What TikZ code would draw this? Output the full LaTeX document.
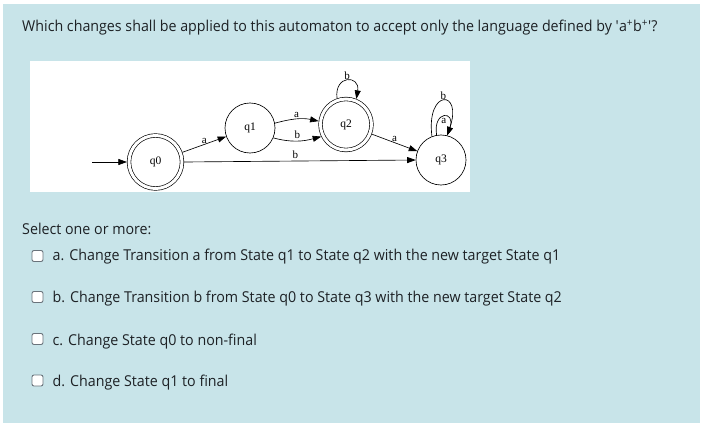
\documentclass[tikz,border=0pt]{standalone}
\usepackage{fontspec}
\setmainfont{Open Sans}[FakeStretch=0.95]
\newfontfamily\gvfont{Liberation Serif}
\usetikzlibrary{arrows.meta}
\definecolor{panel}{HTML}{C8E4E9}
\definecolor{qtext}{HTML}{1D2125}
\definecolor{boxedge}{HTML}{6A737B}
\begin{document}
\begin{tikzpicture}[x=1pt,y=1pt,
  txt/.style={anchor=base west, inner sep=0pt, text=qtext, font=\fontsize{15}{18}\selectfont},
  chk/.style={draw=boxedge, fill=white, rounded corners=2pt, minimum size=11pt, line width=0.9pt, inner sep=0pt},
  state/.style={circle, draw, line width=0.65pt, minimum size=50pt, inner sep=0pt, font=\gvfont\fontsize{11.5}{11.5}\selectfont},
  accept/.style={state, double, double distance=3pt, outer sep=2.1pt},
  edge/.style={line width=0.65pt, -{Triangle[length=8.5pt,width=6pt]}},
  lbl/.style={inner sep=1pt, font=\gvfont\fontsize{11}{11}\selectfont}]
\useasboundingbox (0,0) rectangle (702,-428);
\fill[white] (0,0) rectangle (702,-428);
\fill[panel] (3,-4) rectangle (700,-423);
\fill[white] (30,-61) rectangle (470,-192);
% question
\node[txt] (question) at (22,-32) {Which changes shall be applied to this automaton to accept only the language defined by \textquotesingle a\textsuperscript{+}b\textsuperscript{+}\textquotesingle?};
% automaton
\node[accept, minimum size=53pt] (q0) at (155.5,-162) {q0};
\node[state] (q1) at (250,-128) {q1};
\node[accept, minimum size=51pt] (q2) at (346,-124.5) {q2};
\node[state] (q3) at (441,-160) {q3};
\coordinate (init) at (92,-162);
\draw[edge] (init) -- (q0);
\draw[edge] (q0) -- node[lbl, above, pos=0.5] {a} (q1);
\draw[edge] (q0.east) -- node[lbl, above=1pt, pos=0.48] {b} (q3.west);
\draw[edge] (q1.11) to[out=15, in=168] node[lbl, above] {a} (q2.173);
\draw[edge] (q1.-23) to[out=-15, in=195] node[lbl, above=1pt] {b} (q2.206);
\draw[edge] (q2) -- node[lbl, above, pos=0.5] {a} (q3);
\draw[edge] (q2.109) .. controls +(-3,24) and +(4,24) .. node[lbl, above] {b} (q2.68);
\draw[edge] (q3.111) .. controls +(-6,48) and +(16,46) .. node[lbl, above] {b} (q3.76);
\draw[edge] (q3.100) .. controls +(-4,25) and +(9,25) .. node[lbl, below=0.5pt] {a} (q3.76);
% options
\node[txt] (select) at (22,-234) {Select one or more:};
\node[chk] (cba) at (37.5,-256) {};
\node[txt] (opta) at (52.5,-260.7) {a. Change Transition a from State q1 to State q2 with the new target State q1};
\node[chk] (cbb) at (37.5,-297) {};
\node[txt] (optb) at (52.5,-302) {b. Change Transition b from State q0 to State q3 with the new target State q2};
\node[chk] (cbc) at (37.5,-339) {};
\node[txt] (optc) at (52.5,-345) {c. Change State q0 to non-final};
\node[chk] (cbd) at (37.5,-380.5) {};
\node[txt] (optd) at (52.5,-386) {d. Change State q1 to final};
\end{tikzpicture}
\end{document}
